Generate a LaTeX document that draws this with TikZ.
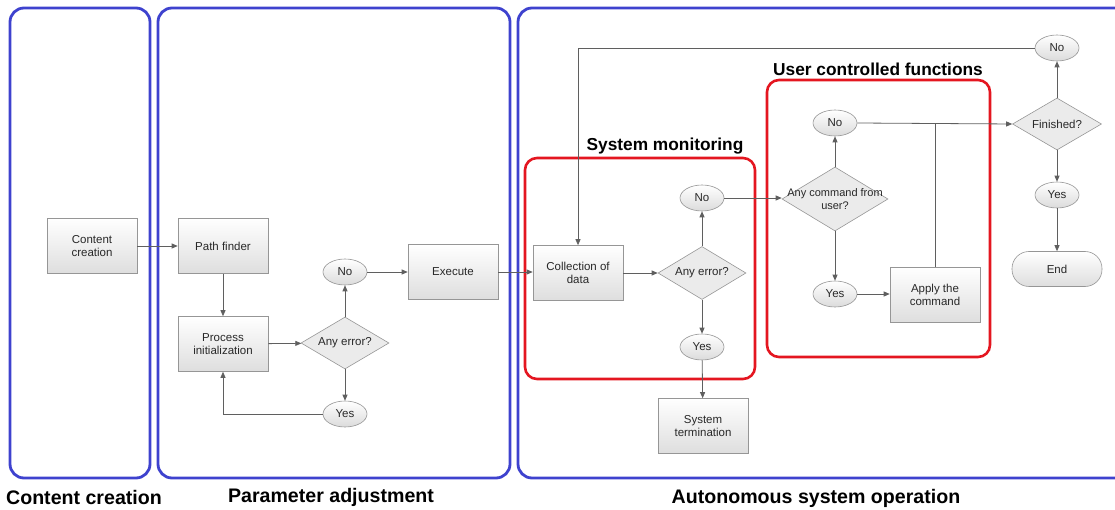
\documentclass[tikz,border=0pt]{standalone}
\usepackage{fontspec}
\setmainfont{Liberation Sans}
\usetikzlibrary{shapes.geometric,arrows.meta}

\definecolor{laneblue}{RGB}{62,66,206}
\definecolor{groupred}{RGB}{228,22,32}
\definecolor{edgegray}{RGB}{150,150,150}
\definecolor{linegray}{RGB}{95,95,95}
\definecolor{txtgray}{RGB}{40,40,40}

\tikzset{
  lane/.style={draw=laneblue, line width=2.8pt, rounded corners=14pt},
  group/.style={draw=groupred, line width=2.6pt, rounded corners=12pt},
  lanetitle/.style={font=\fontsize{19.6}{21}\selectfont\bfseries, text=black},
  grouptitle/.style={font=\fontsize{17.3}{19}\selectfont\bfseries, text=black},
  nodefont/.style={font=\fontsize{11.5}{13.5}\selectfont},
  base/.style={draw=edgegray, line width=0.6pt, text=txtgray, nodefont,
    align=center, inner sep=0pt},
  stepbox/.style={base, rectangle, minimum width=90pt, minimum height=55pt,
    top color=white, bottom color=black!13},
  answer/.style={base, ellipse, minimum width=44pt, minimum height=26pt,
    top color=white, bottom color=black!14},
  decision/.style={base, diamond, fill=black!8},
  decisiontext/.style={text=txtgray, nodefont, align=center, inner sep=0pt},
  terminal/.style={base, rectangle, rounded corners=17pt, minimum width=90pt,
    minimum height=35pt, top color=white, bottom color=black!13},
  flow/.style={draw=linegray, line width=0.8pt,
    -{Triangle[length=6pt,width=5pt]}},
  plain/.style={draw=linegray, line width=0.8pt},
}

\begin{document}
\begin{tikzpicture}[x=1pt,y=-1pt]
\useasboundingbox (0,0) rectangle (1115,510);
\begin{scope}
\clip (0,0) rectangle (1115,510);
% swim lanes
\draw[lane] (10,8) rectangle (150,478);
\draw[lane] (158,8) rectangle (510,478);
\draw[lane] (518,8) rectangle (1135,478);
\end{scope}

% lane titles
\node[lanetitle] (tcc) at (84,497) {Content creation};
\node[lanetitle] (tpa) at (331,497) {Parameter adjustment};
\node[lanetitle] (tas) at (816,498) {Autonomous system operation};

% red groups
\draw[group] (525,158) rectangle (755,379);
\draw[group] (767,80) rectangle (990,357);
\node[grouptitle] (tsm) at (665,146) {System monitoring};
\node[grouptitle] (tuc) at (878,69) {User controlled functions};

% content creation
\node[stepbox] (cc) at (92,246) {Content\\creation};

% parameter adjustment
\node[stepbox] (pf) at (223,246) {Path finder};
\node[stepbox] (pi) at (223,344) {Process\\initialization};
\node[decision, minimum width=88pt, minimum height=52pt] (d1) at (345,343) {};
\node[decisiontext] (d1t) at (d1) {Any error?};
\node[answer] (no1) at (345,272) {No};
\node[answer] (yes1) at (345,414) {Yes};
\node[stepbox] (ex) at (453,272) {Execute};

% system monitoring
\node[stepbox] (cd) at (578,273) {Collection of\\data};
\node[decision, minimum width=88pt, minimum height=53pt] (d2) at (702,273) {};
\node[decisiontext] (d2t) at (d2) {Any error?};
\node[answer] (no2) at (702,198) {No};
\node[answer] (yes2) at (702,347) {Yes};
\node[stepbox] (st) at (703,426) {System\\termination};

% user controlled functions
\node[decision, minimum width=106pt, minimum height=64pt] (d3) at (835,199) {};
\node[decisiontext, font=\fontsize{11}{13.5}\selectfont] (d3t) at (d3) {Any command from\\user?};
\node[answer] (no3) at (835,123) {No};
\node[answer] (yes3) at (835,294) {Yes};
\node[stepbox] (ap) at (935,295) {Apply the\\command};

% finish check
\node[decision, minimum width=89pt, minimum height=52pt] (d4) at (1057,124) {};
\node[decisiontext] (d4t) at (d4) {Finished?};
\node[answer] (no4) at (1057,48) {No};
\node[answer] (yes4) at (1057,195) {Yes};
\node[terminal] (end) at (1057,269) {End};

% connectors
\draw[flow] (cc) -- (pf);
\draw[flow] (pf) -- (pi);
\draw[flow] (pi) -- (d1);
\draw[flow] (d1) -- (no1);
\draw[flow] (d1) -- (yes1);
\draw[flow] (no1) -- (ex);
\draw[flow] (yes1.west) -| (pi.south);
\draw[flow] (ex.east) -- (cd.west |- ex.east);
\draw[flow] (cd) -- (d2);
\draw[flow] (d2) -- (no2);
\draw[flow] (d2) -- (yes2);
\draw[flow] (yes2) -- (st);
\draw[flow] (no2.east) -- (d3.west |- no2.east);
\draw[flow] (d3) -- (no3);
\draw[flow] (d3) -- (yes3);
\draw[flow] (yes3) -- (ap.west |- yes3);
\draw[flow] (no3.east) -- (d4.west);
\coordinate (join) at (ap.north |- no3.east);
\draw[plain] (ap.north) -- (join);
\draw[flow] (d4) -- (no4);
\draw[flow] (d4) -- (yes4);
\draw[flow] (yes4) -- (end);
\draw[flow] (no4.west) -| (cd.north);
\end{tikzpicture}
\end{document}
